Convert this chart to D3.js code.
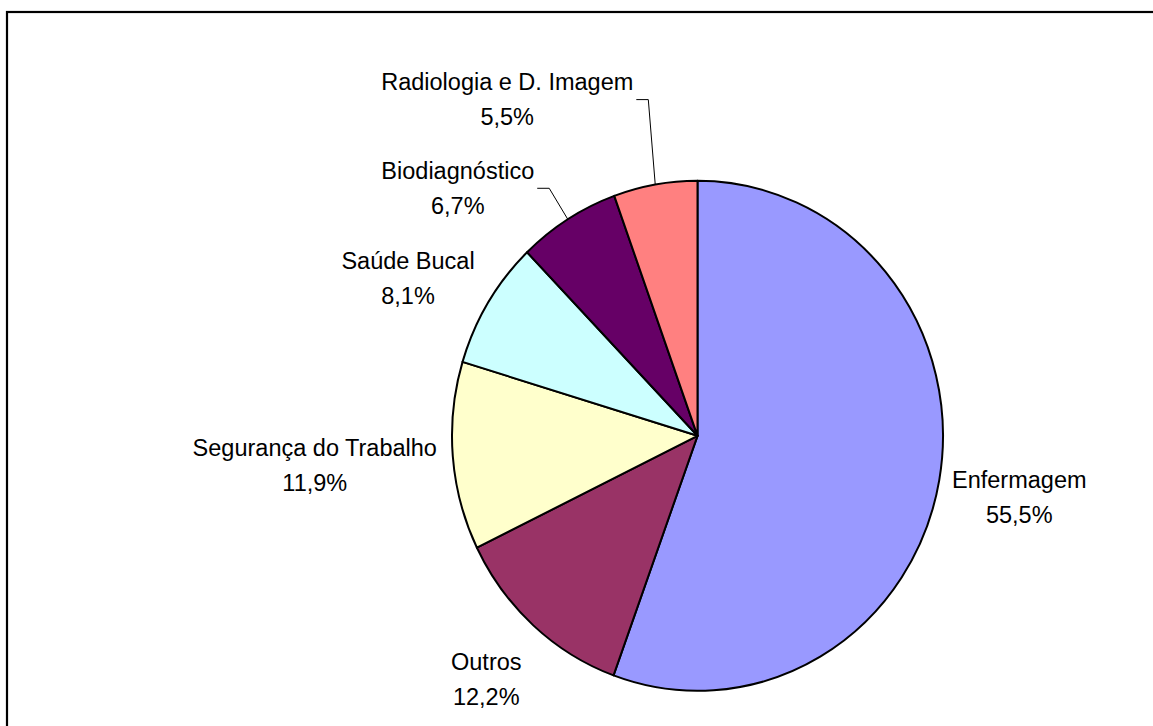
<!DOCTYPE html>
<html>
<head>
<meta charset="utf-8">
<script src="https://cdn.jsdelivr.net/npm/d3@7"></script>
<style>
  html, body { margin: 0; padding: 0; background: #fff; }
  svg { display: block; }
  text { font-family: "Liberation Sans", Arial, sans-serif; font-size: 23.5px; fill: #000; }
</style>
</head>
<body>
<svg id="chart" width="1153" height="726"></svg>
<script>
// ---- data ----
const categories = ["Enfermagem", "Outros", "Segurança do Trabalho", "Saúde Bucal", "Biodiagnóstico", "Radiologia e D. Imagem"];
const values = [55.5, 12.2, 11.9, 8.1, 6.7, 5.5];
const valueLabels = ["55,5%", "12,2%", "11,9%", "8,1%", "6,7%", "5,5%"];
const colors = ["#9999FF", "#993366", "#FFFFCC", "#CCFFFF", "#660066", "#FF8080"];

// ---- layout (label placement relative to slice edge point, leader flags) ----
const labelLayout = [
  { dx: 80, dy: 17, leader: false },
  { dx: -47, dy: 54, leader: false },
  { dx: -138, dy: 9, leader: false },
  { dx: -80, dy: -24, leader: false },
  { dx: -110, dy: -31, leader: true },
  { dx: -148, dy: -85, leader: true }
];

const svg = d3.select("#chart");
const cx = 697.5, cy = 435.8, rx = 245.5, ry = 255;
const sy = ry / rx;

// frame (right/bottom edges fall outside the picture)
svg.append("rect")
  .attr("x", 7).attr("y", 12).attr("width", 1200).attr("height", 800)
  .attr("fill", "none").attr("stroke", "#000").attr("stroke-width", 2.2);

const data = categories.map((c, i) => ({ name: c, value: values[i], label: valueLabels[i], color: colors[i], layout: labelLayout[i] }));

const pie = d3.pie().value(d => d.value).sort(null);
const arcs = pie(data);
const arc = d3.arc().innerRadius(0).outerRadius(rx);

const g = svg.append("g").attr("transform", `translate(${cx},${cy}) scale(1,${sy})`);
g.selectAll("path.slice")
  .data(arcs)
  .enter().append("path")
  .attr("class", "slice")
  .attr("d", arc)
  .attr("fill", d => d.data.color)
  .attr("stroke", "#000")
  .attr("stroke-width", 2)
  .attr("stroke-linejoin", "round")
  .attr("vector-effect", "non-scaling-stroke");

// labels
const lineGap = 35;
arcs.forEach(a => {
  const mid = (a.startAngle + a.endAngle) / 2;
  const ex = cx + rx * Math.sin(mid);
  const ey = cy - ry * Math.cos(mid);
  const L = a.data.layout;
  const lx = ex + L.dx;
  const ly = ey + L.dy; // visual center of two-line block
  const t = svg.append("text").attr("text-anchor", "middle");
  t.append("tspan").attr("x", lx).attr("y", ly - lineGap / 2 + 8).text(a.data.name);
  t.append("tspan").attr("x", lx).attr("y", ly + lineGap / 2 + 8).text(a.data.label);
  if (L.leader) {
    const bb = t.node().getBBox();
    const right = lx + t.select("tspan").node().getComputedTextLength() / 2;
    const yL = ly;
    const p = d3.path();
    p.moveTo(right + 3, yL);
    p.lineTo(right + 15, yL);
    p.lineTo(ex, ey);
    svg.append("path").attr("d", p.toString())
      .attr("fill", "none").attr("stroke", "#000").attr("stroke-width", 1);
  }
});
</script>
</body>
</html>
